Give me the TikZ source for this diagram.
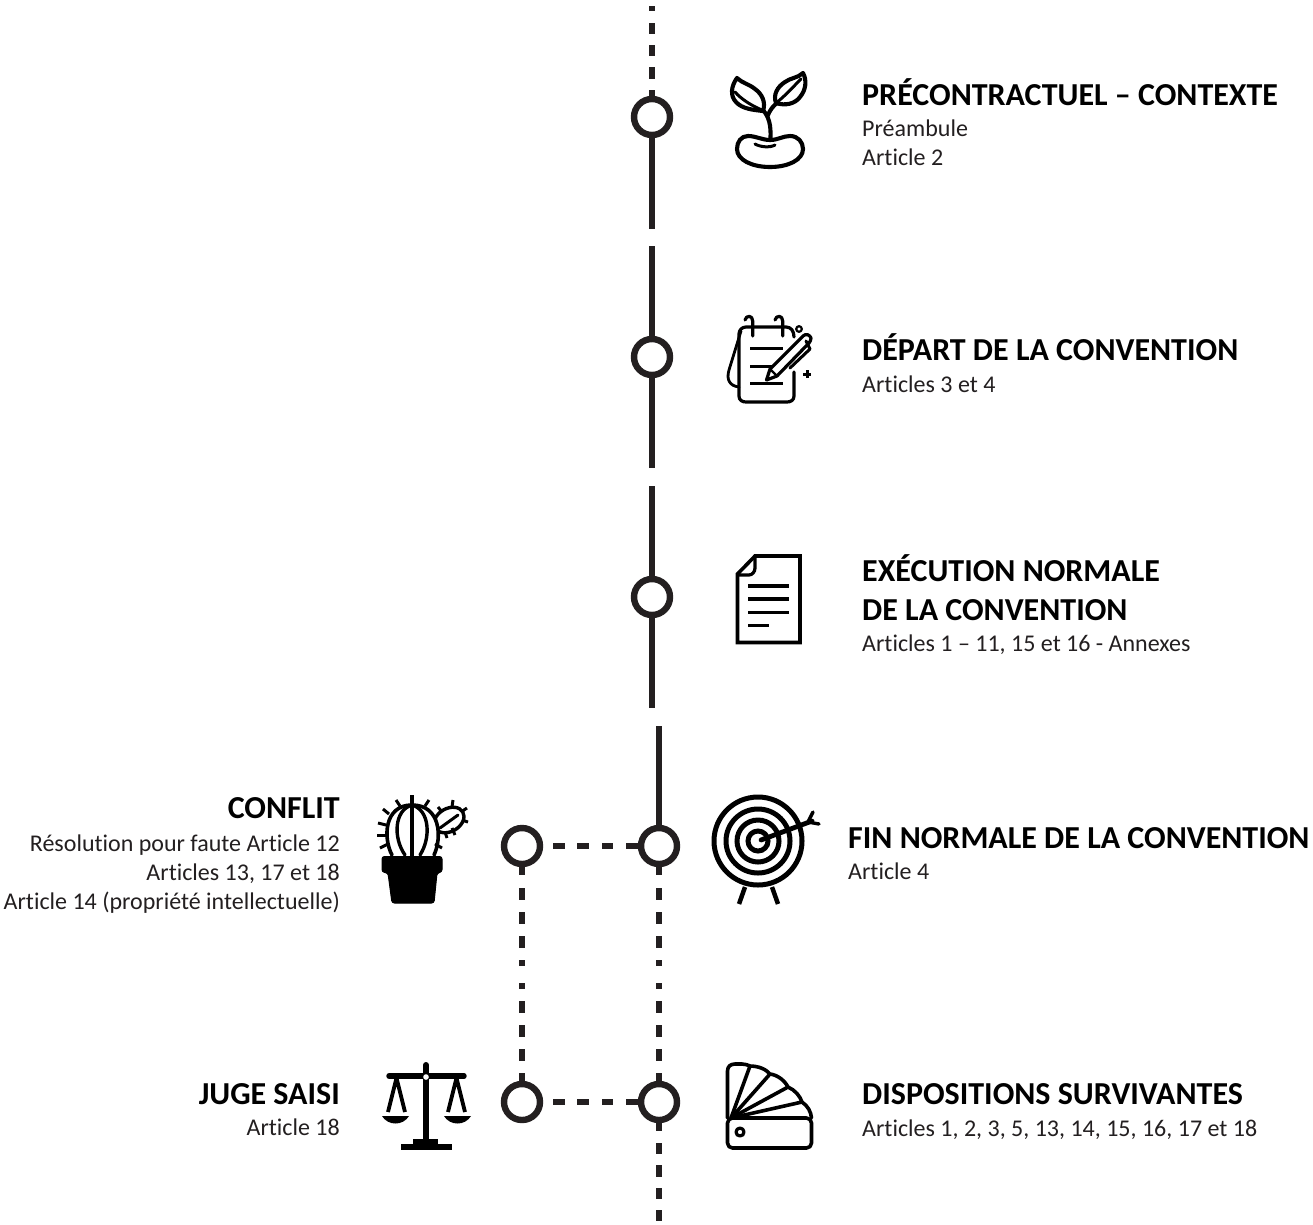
\documentclass[tikz,border=0pt]{standalone}
\usepackage{fontspec}
\setmainfont[Ligatures={NoCommon}]{Carlito}
\definecolor{ink}{HTML}{231F20}
\tikzset{
  ring/.style={circle,draw=ink,fill=white,line width=6.4pt,minimum size=36pt,inner sep=0pt},
  rail/.style={draw=ink,line width=5.8pt},
  headr/.style={font=\fontsize{32}{39}\selectfont\bfseries,text=black,inner sep=0pt,align=left,anchor=base west},
  headl/.style={font=\fontsize{32}{39}\selectfont\bfseries,text=black,inner sep=0pt,align=right,anchor=base east},
  subr/.style={font=\fontsize{24}{29}\selectfont,text=ink,inner sep=0pt,align=left,anchor=base west},
  subl/.style={font=\fontsize{24}{29}\selectfont,text=ink,inner sep=0pt,align=right,anchor=base east},
  ic/.style={draw=black,line width=4.1pt,line cap=round,line join=round},
  icf/.style={fill=black,draw=black,line width=1pt,line join=round},
}
\begin{document}
\begin{tikzpicture}[x=1pt,y=-1pt]
\useasboundingbox[fill=white] (0,0) rectangle (1313,1224);
% timeline circles
\node[ring] (c1) at (652,117) {};
\node[ring] (c2) at (652,357) {};
\node[ring] (c3) at (652,597) {};
\node[ring] (c4) at (659,846) {};
\node[ring] (c5) at (659,1102) {};
\node[ring] (l4) at (522,846) {};
\node[ring] (l5) at (522,1102) {};
\coordinate (top) at (652,6);
\coordinate (g1a) at (652,229);
\coordinate (g1b) at (652,246);
\coordinate (g2a) at (652,468);
\coordinate (g2b) at (652,486);
\coordinate (g3a) at (652,708);
\coordinate (g3b) at (659,726);
\coordinate (bot) at (659,1222);
% connectors
\draw[rail,dash pattern=on 5pt off 12pt on 11pt off 11pt on 11pt off 11pt on 12pt off 11pt on 7pt] (top) -- (c1.north);
\draw[rail] (c1.south) -- (g1a);
\draw[rail] (g1b) -- (c2.north);
\draw[rail] (c2.south) -- (g2a);
\draw[rail] (g2b) -- (c3.north);
\draw[rail] (c3.south) -- (g3a);
\draw[rail] (g3b) -- (c4.north);
\draw[rail,dash pattern=on 8pt off 13pt on 12pt off 12pt on 12pt off 12pt on 12pt off 12pt on 6pt off 17pt on 6pt off 12pt on 12pt off 12pt on 12pt off 12pt on 12pt off 12pt on 9pt] (c4.south) -- (c5.north);
\draw[rail,dash pattern=on 8pt off 13pt on 12pt off 12pt on 12pt off 12pt on 12pt off 12pt on 6pt off 17pt on 6pt off 12pt on 12pt off 12pt on 12pt off 12pt on 12pt off 12pt on 9pt] (l4.south) -- (l5.north);
\draw[rail,dash pattern=on 8pt off 12pt on 11pt off 11pt on 12pt off 11pt on 11pt off 11pt on 11pt] (c5.south) -- (bot);
\draw[rail,dash pattern=on 12pt off 12pt on 12pt off 13pt on 11pt off 13pt on 12pt] (l4.east) ++(10pt,0) coordinate (h4s) -- (c4.west);
\draw[rail,dash pattern=on 12pt off 12pt on 12pt off 13pt on 11pt off 13pt on 12pt] (l5.east) ++(10pt,0) coordinate (h5s) -- (c5.west);
% text
\node[headr] (t1) at (862,105) {PRÉCONTRACTUEL – CONTEXTE};
\node[subr,anchor=north west] (s1) at (862,120) {Préambule\\Article 2};
\node[headr] (t2) at (862,360) {DÉPART DE LA CONVENTION};
\node[subr] (s2) at (862,392) {Articles 3 et 4};
\node[headr,anchor=north west] (t3) at (862,554) {EXÉCUTION NORMALE\\DE LA CONVENTION};
\node[subr] (s3) at (862,651) {Articles 1 – 11, 15 et 16 - Annexes};
\node[headr] (t4) at (848,848) {FIN NORMALE DE LA CONVENTION};
\node[subr] (s4) at (848,879) {Article 4};
\node[headr] (t5) at (862,1104) {DISPOSITIONS SURVIVANTES};
\node[subr] (s5) at (862,1136) {Articles 1, 2, 3, 5, 13, 14, 15, 16, 17 et 18};
\node[headl] (t6) at (340,818) {CONFLIT};
\node[subl,anchor=north east] (s6) at (340,835) {Résolution pour faute Article 12\\Articles 13, 17 et 18\\Article 14 (propriété intellectuelle)};
\node[headl] (t7) at (340,1104) {JUGE SAISI};
\node[subl] (s7) at (340,1135) {Article 18};
% plant
\draw[ic] (770,140) .. controls (762,140) and (756,136) .. (748,136) .. controls (741,136) and (737,142) .. (737,149) .. controls (737,160) and (752,167) .. (770,167) .. controls (788,167) and (803,160) .. (803,149) .. controls (803,142) and (798,136) .. (790,136) .. controls (783,136) and (778,140) .. (770,140);
\draw[ic,line width=3pt] (755,144) .. controls (760,147) and (770,148) .. (775,145);
\draw[ic] (770.5,138) .. controls (771,125) and (769,117) .. (763,110);
\draw[ic] (767.5,116) .. controls (770,110) and (773,106) .. (777,103);
\draw[ic] (737,78) .. controls (731,86) and (730,96) .. (736,102) .. controls (742,109) and (754,110) .. (763,111) .. controls (766,102) and (762,94) .. (755,89) .. controls (749,84) and (742,83) .. (737,78);
\draw[ic,line width=3pt] (735,92) .. controls (741,99) and (752,106) .. (762,110);
\draw[ic] (803,73) .. controls (798,78) and (790,78) .. (785,82) .. controls (777,87) and (773,95) .. (776,103) .. controls (785,106) and (795,104) .. (800,97) .. controls (806,90) and (807,80) .. (803,73);
\draw[ic,line width=3pt] (801,79) .. controls (792,88) and (785,96) .. (776,103);
% notepad
\draw[ic,line width=3.2pt] (794,337) .. controls (794,331) and (791,327) .. (786,327) -- (746,327) .. controls (742,327) and (739,330) .. (739,334) -- (739,396) .. controls (739,400) and (742,402) .. (746,402) -- (787,402) .. controls (791,402) and (794,400) .. (794,396) -- (794,372);
\draw[ic,line width=2.8pt] (741,331) -- (729,370) .. controls (726,380) and (730,386) .. (739,387);
\draw[ic,line width=3.2pt] (752.7,336) -- (752.7,321) .. controls (752.7,315) and (746,315) .. (745,320);
\draw[ic,line width=3.2pt] (782.7,336) -- (782.7,321) .. controls (782.7,315) and (776,315) .. (775,320);
\draw[ic,line width=3pt,line cap=butt] (750,348) -- (783,348);
\draw[ic,line width=3pt,line cap=butt] (750,366) -- (776,366);
\draw[ic,line width=3pt,line cap=butt] (750,383) -- (783,383);
\draw[ic,fill=white,line width=3.2pt] (766.5,380) -- (770,369) -- (803,336) .. controls (806,333) and (810,335) .. (811,338) .. controls (811,340) and (810,342) .. (809,343) -- (777,376) -- cycle;
\draw[ic,line width=3pt] (790,368) -- (810,349) -- (806,341);
\draw[ic,line width=2.4pt] (771,370) -- (777,376);
\draw[ic,line width=2.2pt] (799,329) circle (2.8pt);
\draw[ic,line width=3pt,line cap=butt] (803,374) -- (811,374) (807,370) -- (807,378);
% document
\draw[ic,line width=3.6pt,line cap=butt,line join=miter] (755,556) -- (800,556) -- (800,642.5) -- (737.5,642.5) -- (737.5,574) -- cycle;
\draw[ic,line width=3.2pt] (755,557) -- (755,568) .. controls (755,572) and (752,575) .. (749,575) -- (738,575);
\foreach \yy/\xe in {586/788.5,599/788.5,612.5/788.5,625.5/768.5}
  \draw[ic,line width=3.6pt,line cap=butt] (748,\yy) -- (\xe,\yy);
% cactus
\draw[icf,rounded corners=2.5pt] (382,856.5) -- (442,856.5) -- (442,872) -- (437,873) -- (434,903) -- (392,903) -- (388,873) -- (382,872) -- cycle;
\draw[ic,fill=white,line width=3.4pt] (449,820) ellipse [x radius=16pt,y radius=11.5pt,rotate=30];
\draw[ic,line width=3pt] (440,828) -- (458,815);
\draw[ic,fill=white,line width=3.6pt] (392,855) .. controls (383,838) and (384,805) .. (412,805) .. controls (441,805) and (442,838) .. (434,855);
\draw[ic,line width=3.4pt] (405,855) .. controls (393,838) and (394,810) .. (412,805) .. controls (430,810) and (431,838) .. (420,855);
\draw[ic,line width=3.4pt,line cap=butt] (412,795) -- (412,856);
\foreach \ax/\ay/\bx/\by in {383/809/389/814, 396/800/400/806, 429/800/425/806, 377/835/386/835, 378/823/386/825, 380/848/388/844, 442/848/435/844, 438/807/442/812, 453/800/452/807, 467/808/461/812, 468/822/462/820, 455/835/452/828, 447/838/445/832}
  \draw[ic,line width=3pt,line cap=butt] (\ax,\ay) -- (\bx,\by);
% target
\foreach \rr in {44,32,21,10}
  \draw[draw=black,line width=5pt] (758,841) circle (\rr pt);
\draw[draw=black,line width=4.8pt,line cap=round] (761,840) -- (812,821);
\draw[ic,line width=3.4pt] (808,822) -- (813,812);
\draw[ic,line width=3.4pt] (808,822) -- (819,824);
\draw[ic,line width=4.5pt,line cap=butt] (745,887) -- (739,904);
\draw[ic,line width=4.5pt,line cap=butt] (772,887) -- (778,904);
% fan
\draw[ic,line width=3.6pt,rounded corners=5pt] (727.5,1118) rectangle (811.5,1148);
\draw[ic,line width=3.2pt] (740,1132) circle (4pt);
\draw[ic,line width=3.6pt] (727.5,1118) -- (727.5,1071) .. controls (727.5,1066) and (731,1064) .. (735,1064) -- (742,1064) .. controls (745,1064) and (748,1065) .. (750,1066) .. controls (758,1066) and (766,1069) .. (770,1074) .. controls (778,1075) and (785,1081) .. (788,1087) .. controls (795,1090) and (800,1096) .. (802,1102) .. controls (808,1106) and (811,1112) .. (811.5,1118);
\foreach \ex/\ey in {750/1066,770/1074,788/1087,802/1102}
  \draw[ic,line width=3.6pt,line cap=butt] (731,1118) -- (\ex,\ey);
% scales
\draw[ic,line width=6pt] (426,1065) -- (426,1143);
\draw[ic,line width=5.4pt] (389,1076) -- (464,1076);
\fill[white] (426,1077) circle (2.8pt);
\fill[black] (413,1139) rectangle (438,1145);
\fill[black] (401,1143.5) rectangle (452,1150);
\draw[ic,line width=3.8pt,line cap=butt] (388,1112) -- (396.5,1078) -- (405,1112);
\draw[ic,line width=3.8pt,line cap=butt] (448,1112) -- (456.5,1078) -- (465,1112);
\fill[black] (382,1116) .. controls (388,1126) and (403,1126) .. (409,1116) -- cycle;
\fill[black] (444,1116) .. controls (450,1126) and (465,1126) .. (471,1116) -- cycle;
\end{tikzpicture}
\end{document}
